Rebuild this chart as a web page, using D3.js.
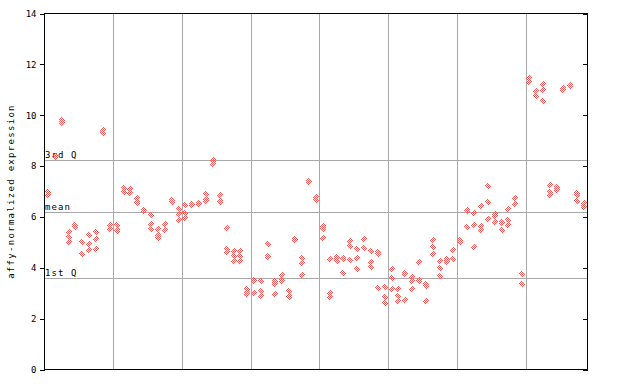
<!DOCTYPE html>
<html><head><meta charset="utf-8">
<script src="https://cdn.jsdelivr.net/npm/d3@7"></script>
<style>body{margin:0;background:#fff}svg{display:block}</style>
</head><body>
<svg id="chart" width="640" height="384"></svg>
<script>
// replicate values per sample (79 samples, left to right)
const sampleValues = [
  [7.0, 6.85], [8.38, 8.34], [9.83, 9.79, 9.70], [5.39, 5.22, 5.02], [5.70, 5.60],
  [5.02, 4.56], [5.28, 4.95, 4.68], [5.39, 5.15, 4.72], [9.42, 9.32], [5.67, 5.52],
  [5.67, 5.47, 5.43], [7.12, 6.98], [7.09, 6.94], [6.76, 6.57, 6.53], [6.28, 6.24],
  [6.07, 5.74, 5.53], [5.52, 5.28, 5.21, 5.17], [5.74, 5.47], [6.68, 6.58], [6.30, 6.10, 5.86],
  [6.45, 6.17, 5.96], [6.52, 6.47], [6.56, 6.50], [6.92, 6.72, 6.64], [8.25, 8.21, 8.10],
  [6.86, 6.64, 6.60], [5.55, 4.74, 4.64], [4.66, 4.46, 4.26], [4.65, 4.48, 4.26], [3.15, 3.05, 2.97],
  [3.53, 3.49, 2.99], [3.47, 3.09, 2.88], [4.95, 4.47, 4.42], [3.47, 3.43, 3.36, 2.95], [3.73, 3.53, 3.49],
  [3.08, 2.88, 2.84], [5.12, 5.08], [4.40, 4.17, 3.70], [7.40, 7.36], [6.78, 6.66],
  [5.63, 5.57, 5.53, 5.19], [4.33, 3.01, 2.85], [4.41, 4.37, 4.28], [4.37, 4.33, 3.78], [5.05, 4.85, 4.29],
  [4.73, 4.38, 3.97], [5.15, 4.76], [4.65, 4.22, 4.05], [4.61, 4.53, 3.22], [3.26, 2.87, 2.63],
  [3.97, 3.60, 3.18], [3.18, 2.91, 2.71], [3.78, 3.74, 2.75], [3.62, 3.50, 3.15], [4.22, 3.53, 3.49],
  [3.38, 3.29, 2.71], [5.11, 4.80, 4.56], [4.25, 4.01, 3.66], [4.36, 4.32, 4.21], [4.68, 4.36],
  [5.08, 5.00], [6.26, 6.22, 5.62], [6.17, 5.67, 4.80], [6.42, 5.63, 5.48], [7.23, 6.57, 5.90],
  [6.11, 6.03, 5.80], [5.82, 5.78, 5.50], [6.30, 5.87, 5.67], [6.74, 6.49], [3.74, 3.38],
  [11.48, 11.30], [10.94, 10.74], [11.21, 10.98, 10.55], [7.24, 6.98, 6.86], [7.16, 7.12, 7.05],
  [11.07, 10.98], [11.20, 11.16], [6.95, 6.86, 6.61], [6.55, 6.42, 6.38]
];
const yTickValues = [0, 2, 4, 6, 8, 10, 12, 14];
const refLabels = ["3rd Q", "mean", "1st Q"];
const refValues = [8.23, 6.21, 3.61];
const groupBreaks = [10, 20, 30, 40, 50, 60, 70];
const yTitle = "affy-normalized expression";

const svg = d3.select("#chart");
const nSamples = sampleValues.length;
const x = d3.scaleLinear().domain([0, nSamples]).range([44.5, 587.5]);
const y = d3.scaleLinear().domain([0, 14]).range([369.5, 13.5]);
const red = "#ff5555";
const font = "'DejaVu Sans Mono', monospace";

const defs = svg.append("defs");
const pat = defs.append("pattern").attr("id", "chk").attr("width", 2).attr("height", 2)
  .attr("patternUnits", "userSpaceOnUse");
pat.append("rect").attr("x", 0).attr("y", 0).attr("width", 1).attr("height", 1).attr("fill", red);
pat.append("rect").attr("x", 1).attr("y", 1).attr("width", 1).attr("height", 1).attr("fill", red);

// vertical group gridlines
svg.append("g").selectAll("line").data(groupBreaks).join("line")
  .attr("x1", d => Math.round(x(d)) + 0.5).attr("x2", d => Math.round(x(d)) + 0.5)
  .attr("y1", y(14)).attr("y2", y(0))
  .attr("stroke", "#a8a8a8").attr("stroke-width", 1).attr("shape-rendering", "crispEdges");

// reference lines
svg.append("g").selectAll("line").data(refValues).join("line")
  .attr("x1", x(0)).attr("x2", x(nSamples))
  .attr("y1", d => Math.round(y(d)) + 0.5).attr("y2", d => Math.round(y(d)) + 0.5)
  .attr("stroke", "#a8a8a8").attr("stroke-width", 1).attr("shape-rendering", "crispEdges");

svg.append("g").selectAll("text").data(refLabels).join("text")
  .attr("x", x(0) + 0.5).attr("y", (d, i) => Math.round(y(refValues[i])) - 2)
  .attr("font-family", font).attr("font-size", 9).attr("letter-spacing", 1.1)
  .attr("fill", "#000").text(d => d);

// points
const pts = [];
sampleValues.forEach((vals, i) => vals.forEach(v => pts.push({i, v})));
svg.append("g").selectAll("path").data(pts).join("path")
  .attr("d", d => {
    const cx = Math.round(x(d.i + 0.5)), cy = Math.round(y(d.v));
    return `M${cx},${cy - 3.5}L${cx + 3.5},${cy}L${cx},${cy + 3.5}L${cx - 3.5},${cy}Z`;
  })
  .attr("fill", "url(#chk)").attr("shape-rendering", "crispEdges");

// left axis
const left = svg.append("g").attr("transform", `translate(${x(0)},0)`)
  .call(d3.axisLeft(y).tickValues(yTickValues).tickSize(5).tickPadding(3).tickFormat(d3.format("d")));
left.select(".domain").remove();
left.selectAll("line").attr("stroke", "#000").attr("shape-rendering", "crispEdges");
left.selectAll("text").attr("font-family", font).attr("font-size", 9).attr("fill", "#000");

// right axis (inward ticks)
const right = svg.append("g").attr("transform", `translate(${x(nSamples)},0)`)
  .call(d3.axisLeft(y).tickValues(yTickValues).tickSize(5).tickFormat(""));
right.select(".domain").remove();
right.selectAll("line").attr("stroke", "#000").attr("shape-rendering", "crispEdges");

// frame
svg.append("rect").attr("x", x(0)).attr("y", y(14)).attr("width", x(nSamples) - x(0))
  .attr("height", y(0) - y(14)).attr("fill", "none").attr("stroke", "#000")
  .attr("shape-rendering", "crispEdges");

// y title
svg.append("text").attr("transform", `translate(14,${(y(0) + y(14)) / 2}) rotate(-90)`)
  .attr("text-anchor", "middle").attr("font-family", font).attr("font-size", 9)
  .attr("letter-spacing", 1.3).attr("fill", "#000").text(yTitle);
</script>
</body></html>
